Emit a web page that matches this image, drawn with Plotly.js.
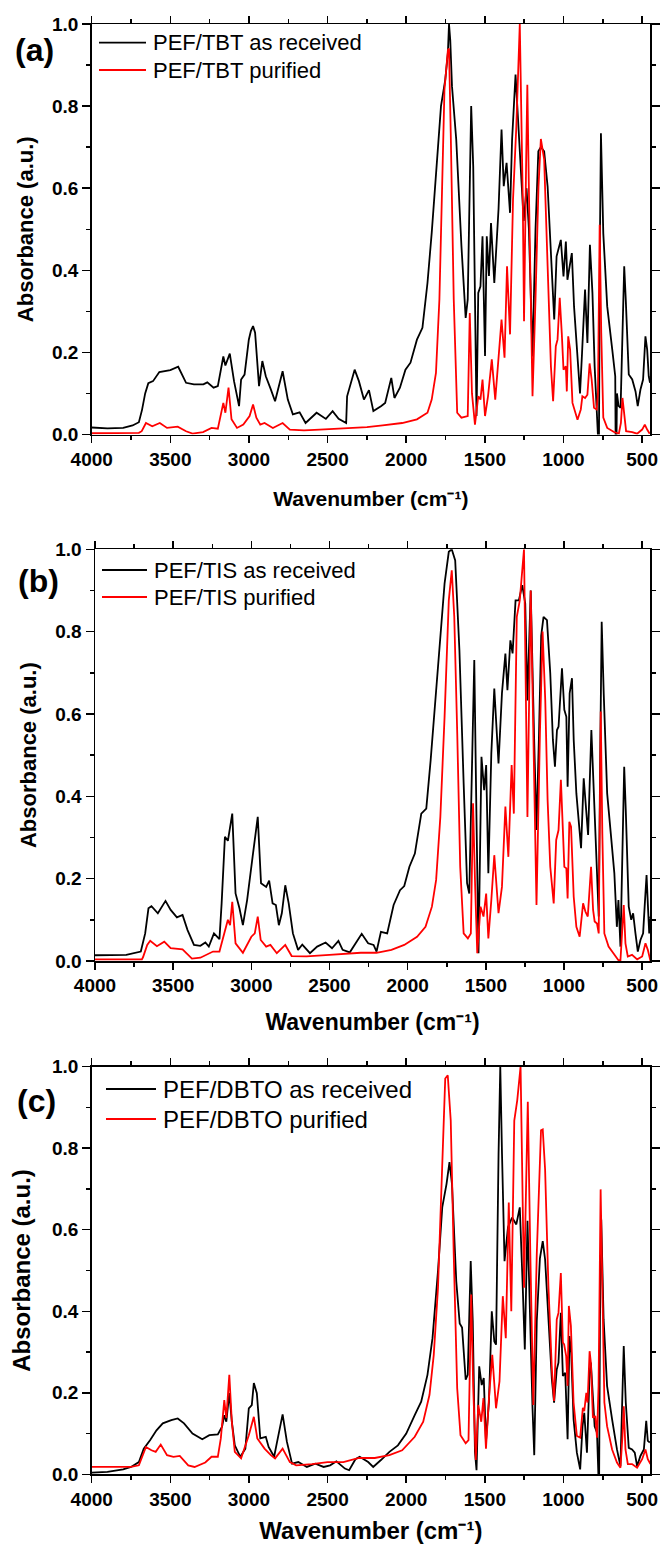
<!DOCTYPE html>
<html>
<head>
<meta charset="utf-8">
<script src="https://cdn.plot.ly/plotly-3.0.1.min.js"></script>
<style>html,body{margin:0;padding:0;background:#fff;}#chart{width:664px;height:1546px;}</style>
</head>
<body>
<div id="chart"></div>
<script>
// ---------- DATA (wavenumber cm-1, absorbance a.u.) ----------
// Panel (a) PEF/TBT
const aRecWn  = [4000,3900,3800,3740,3700,3680,3660,3640,3610,3570,3500,3450,3400,3350,3290,3265,3225,3198,3163,3150,3122,3095,3063,3050,3028,3001,2988,2974,2961,2936,2915,2893,2861,2834,2786,2753,2721,2678,2640,2570,2511,2468,2430,2382,2376,2350,2328,2301,2269,2237,2209,2161,2134,2095,2075,2040,2005,1973,1932,1897,1865,1838,1806,1779,1752,1735,1728,1720,1709,1682,1649,1622,1609,1587,1574,1561,1553,1542,1528,1515,1499,1488,1474,1461,1440,1413,1394,1380,1362,1340,1327,1305,1286,1268,1253,1235,1220,1197,1178,1160,1144,1123,1101,1080,1059,1044,1017,1000,985,975,947,933,911,895,882,863,848,832,816,802,789,781,775,768,762,747,722,690,671,668,664,660,650,637,625,614,604,585,563,542,528,511,494,479,468,458,450];
const aRecAbs = [0.017,0.015,0.016,0.022,0.03,0.06,0.1,0.125,0.13,0.152,0.157,0.165,0.126,0.122,0.122,0.127,0.114,0.118,0.19,0.168,0.197,0.13,0.069,0.134,0.146,0.231,0.252,0.264,0.248,0.118,0.179,0.142,0.11,0.081,0.154,0.085,0.049,0.054,0.028,0.053,0.038,0.057,0.038,0.028,0.093,0.126,0.158,0.13,0.085,0.108,0.057,0.069,0.077,0.138,0.089,0.114,0.158,0.175,0.231,0.26,0.369,0.491,0.653,0.80,0.864,0.93,1.0,0.96,0.848,0.718,0.459,0.284,0.329,0.80,0.653,0.199,0.045,0.345,0.361,0.483,0.191,0.483,0.386,0.515,0.369,0.55,0.743,0.605,0.662,0.54,0.718,0.877,0.75,0.65,0.52,0.6,0.5,0.19,0.5,0.69,0.70,0.69,0.604,0.442,0.28,0.434,0.474,0.385,0.47,0.377,0.442,0.312,0.199,0.1,0.199,0.353,0.223,0.462,0.345,0.166,0.061,-0.05,-0.05,0.49,0.734,0.49,0.312,0.207,0.142,-0.05,-0.05,0.1,0.07,0.065,0.247,0.41,0.328,0.146,0.134,0.105,0.069,0.109,0.134,0.239,0.207,0.142,0.126];
const aPurWn  = [4000,3800,3700,3682,3655,3615,3567,3521,3453,3400,3359,3292,3238,3198,3163,3150,3130,3111,3076,3036,2996,2974,2953,2928,2901,2848,2786,2740,2650,2550,2450,2350,2250,2150,2026,1932,1865,1838,1811,1789,1771,1757,1735,1728,1717,1698,1676,1649,1609,1596,1582,1563,1542,1528,1515,1499,1480,1456,1434,1413,1394,1375,1359,1340,1321,1300,1278,1259,1251,1238,1230,1219,1197,1178,1159,1144,1123,1101,1080,1066,1049,1038,1024,1011,1000,985,979,970,958,943,928,911,890,880,863,848,834,821,806,789,781,770,760,747,722,679,648,635,625,616,602,563,532,500,483,468,452];
const aPurAbs = [0.003,0.003,0.004,0.008,0.028,0.02,0.028,0.016,0.019,0.008,0.002,0.006,0.016,0.014,0.077,0.053,0.114,0.037,0.016,0.024,0.045,0.073,0.041,0.024,0.028,0.016,0.028,0.012,0.01,0.012,0.014,0.016,0.018,0.022,0.028,0.037,0.053,0.085,0.15,0.33,0.653,0.84,0.937,0.94,0.735,0.33,0.053,0.041,0.045,0.296,0.1,0.024,0.093,0.085,0.134,0.045,0.093,0.183,0.085,0.183,0.28,0.187,0.41,0.244,0.572,0.75,1.0,0.572,0.276,0.653,0.852,0.572,0.093,0.33,0.605,0.72,0.67,0.41,0.166,0.081,0.215,0.231,0.333,0.247,0.158,0.166,0.105,0.239,0.207,0.077,0.057,0.036,0.061,0.093,0.089,0.097,0.173,0.134,0.065,0.061,0.1,0.511,0.247,0.041,0.016,0.006,0.002,0.028,0.089,0.053,0.008,0.006,0.002,0.012,0.024,0.012,0.002];

// Panel (b) PEF/TIS
const bRecWn  = [4000,3800,3707,3679,3658,3639,3598,3549,3516,3476,3440,3408,3367,3326,3294,3272,3239,3204,3190,3169,3150,3122,3101,3076,3054,3027,2992,2959,2938,2905,2886,2864,2843,2824,2805,2783,2761,2734,2701,2674,2625,2579,2525,2484,2443,2416,2370,2334,2294,2253,2218,2199,2171,2131,2090,2049,2022,1989,1954,1913,1881,1853,1826,1791,1764,1737,1718,1696,1669,1642,1620,1606,1587,1574,1560,1547,1528,1511,1498,1484,1465,1446,1419,1397,1375,1362,1343,1329,1310,1289,1267,1248,1234,1213,1192,1176,1160,1146,1131,1109,1088,1071,1058,1045,1035,1013,998,985,977,964,949,938,921,906,891,874,859,846,825,810,793,778,767,759,746,724,699,678,662,652,639,626,615,605,586,570,558,543,528,511,494,483,472,464,455,447];
const bRecAbs = [0.014,0.015,0.023,0.067,0.128,0.133,0.116,0.146,0.124,0.106,0.112,0.075,0.039,0.037,0.045,0.035,0.067,0.053,0.14,0.302,0.292,0.358,0.164,0.128,0.087,0.148,0.253,0.35,0.189,0.18,0.195,0.14,0.136,0.087,0.116,0.184,0.14,0.067,0.027,0.04,0.019,0.035,0.045,0.031,0.049,0.027,0.021,0.043,0.066,0.043,0.039,0.023,0.071,0.067,0.136,0.172,0.182,0.229,0.261,0.358,0.37,0.488,0.617,0.771,0.917,0.994,1.0,0.973,0.755,0.431,0.189,0.164,0.472,0.731,0.35,0.019,0.496,0.415,0.476,0.213,0.504,0.662,0.48,0.65,0.747,0.658,0.779,0.747,0.876,0.876,0.913,0.868,0.633,0.9,0.553,0.318,0.55,0.79,0.836,0.828,0.699,0.537,0.472,0.561,0.569,0.711,0.61,0.593,0.423,0.65,0.687,0.537,0.407,0.334,0.274,0.444,0.359,0.306,0.561,0.4,0.229,0.108,0.553,0.824,0.65,0.407,0.302,0.213,0.083,0.148,0.035,0.27,0.472,0.367,0.132,0.1,0.116,0.067,0.023,0.051,0.067,0.14,0.209,0.14,0.067,0.108];
const bPurWn  = [4000,3700,3693,3666,3647,3604,3557,3516,3440,3380,3326,3245,3204,3163,3150,3136,3122,3101,3054,3000,2978,2959,2940,2905,2878,2837,2783,2742,2647,2500,2300,2200,2104,2022,1940,1886,1845,1818,1791,1764,1737,1718,1702,1683,1664,1642,1615,1596,1582,1569,1555,1534,1515,1498,1484,1465,1446,1419,1397,1375,1356,1335,1321,1302,1283,1256,1234,1213,1194,1176,1154,1137,1120,1105,1088,1066,1050,1035,1020,1006,998,985,977,966,955,938,921,900,878,863,848,827,814,804,789,778,765,755,742,715,683,652,639,628,618,607,592,565,532,500,479,464,447];
const bPurAbs = [0.004,0.004,0.009,0.039,0.049,0.036,0.047,0.031,0.028,0.006,0.008,0.023,0.023,0.081,0.1,0.087,0.144,0.043,0.02,0.059,0.067,0.108,0.051,0.035,0.039,0.019,0.039,0.012,0.011,0.015,0.02,0.02,0.027,0.039,0.059,0.083,0.132,0.197,0.35,0.593,0.876,0.949,0.836,0.553,0.229,0.067,0.055,0.067,0.383,0.189,0.019,0.132,0.108,0.164,0.055,0.148,0.257,0.116,0.18,0.375,0.253,0.476,0.358,0.836,0.876,1.0,0.35,0.9,0.553,0.136,0.553,0.8,0.634,0.391,0.229,0.14,0.294,0.318,0.44,0.31,0.229,0.225,0.152,0.338,0.326,0.156,0.083,0.059,0.14,0.12,0.108,0.229,0.124,0.096,0.091,0.067,0.606,0.31,0.067,0.035,0.019,0.002,0.002,0.067,0.136,0.043,0.011,0.015,0.004,0.011,0.043,0.027,0.0];

// Panel (c) PEF/DBTO
const cRecWn  = [4000,3900,3800,3750,3700,3669,3628,3588,3548,3494,3453,3413,3359,3297,3252,3198,3171,3157,3144,3125,3109,3090,3055,3023,3001,2982,2969,2950,2928,2893,2875,2840,2821,2786,2759,2726,2686,2632,2578,2525,2484,2444,2390,2363,2323,2296,2242,2210,2161,2107,2053,2000,1946,1905,1865,1833,1798,1771,1744,1725,1709,1682,1660,1645,1622,1609,1590,1577,1563,1553,1536,1520,1507,1493,1474,1456,1440,1429,1413,1402,1391,1375,1353,1327,1300,1278,1259,1246,1229,1213,1197,1186,1170,1150,1132,1117,1096,1074,1060,1043,1032,1017,1004,989,974,962,951,936,915,894,879,868,851,834,826,813,802,787,780,774,768,760,745,723,691,660,638,625,617,604,585,564,547,532,511,489,474,464,451];
const cRecAbs = [0.004,0.006,0.012,0.018,0.03,0.063,0.084,0.108,0.125,0.133,0.137,0.125,0.1,0.086,0.096,0.098,0.117,0.145,0.129,0.199,0.129,0.071,0.043,0.063,0.162,0.17,0.224,0.199,0.088,0.092,0.067,0.043,0.08,0.147,0.08,0.026,0.03,0.018,0.026,0.018,0.022,0.032,0.014,0.01,0.037,0.043,0.03,0.018,0.035,0.055,0.071,0.1,0.145,0.178,0.244,0.334,0.499,0.655,0.712,0.766,0.712,0.474,0.37,0.36,0.232,0.244,0.523,0.376,0.055,0.01,0.265,0.219,0.236,0.08,0.178,0.4,0.326,0.318,0.786,1.0,0.786,0.523,0.606,0.63,0.613,0.655,0.458,0.306,0.622,0.376,0.162,0.047,0.376,0.53,0.572,0.527,0.38,0.233,0.176,0.257,0.274,0.396,0.241,0.249,0.086,0.339,0.298,0.135,0.053,0.012,0.118,0.151,0.053,0.249,0.274,0.176,0.118,0.102,-0.05,-0.05,0.38,0.625,0.38,0.217,0.135,0.061,0.02,0.176,0.315,0.176,0.065,0.061,0.053,0.02,0.045,0.061,0.131,0.082,0.078];
const cPurWn  = [4000,3750,3700,3682,3655,3620,3593,3561,3521,3480,3440,3386,3346,3278,3238,3198,3179,3157,3144,3125,3109,3090,3050,3001,2969,2947,2915,2901,2861,2834,2786,2740,2700,2600,2500,2400,2300,2200,2107,2026,1946,1892,1852,1825,1798,1771,1752,1736,1717,1698,1676,1655,1622,1604,1587,1574,1558,1542,1523,1509,1493,1474,1453,1429,1407,1386,1367,1348,1332,1313,1294,1273,1251,1238,1227,1211,1192,1170,1143,1132,1117,1096,1074,1060,1043,1032,1017,1004,996,983,974,966,953,936,915,894,877,868,855,847,834,826,813,798,787,777,764,753,740,723,691,660,638,625,617,606,591,564,532,500,479,464,447];
const cPurAbs = [0.018,0.018,0.022,0.039,0.067,0.059,0.055,0.073,0.047,0.043,0.045,0.022,0.018,0.029,0.043,0.043,0.088,0.182,0.138,0.244,0.129,0.055,0.039,0.096,0.141,0.088,0.071,0.063,0.047,0.039,0.063,0.03,0.022,0.025,0.03,0.03,0.04,0.04,0.047,0.059,0.092,0.129,0.195,0.293,0.458,0.786,0.971,0.979,0.868,0.54,0.211,0.096,0.076,0.084,0.441,0.211,0.035,0.17,0.129,0.187,0.063,0.187,0.293,0.162,0.228,0.437,0.334,0.667,0.4,0.868,0.918,1.0,0.458,0.704,0.914,0.54,0.17,0.54,0.844,0.846,0.748,0.462,0.257,0.18,0.38,0.396,0.494,0.323,0.319,0.29,0.217,0.413,0.364,0.176,0.094,0.09,0.163,0.155,0.2,0.176,0.302,0.274,0.139,0.143,0.09,0.217,0.699,0.462,0.176,0.118,0.061,0.029,0.016,0.094,0.167,0.061,0.025,0.025,0.016,0.037,0.061,0.037,0.025];

const xTickVals = [4000,3500,3000,2500,2000,1500,1000,500];
const yTickVals = [0.0,0.2,0.4,0.6,0.8,1.0];
const names = [["PEF/TBT as received","PEF/TBT purified"],["PEF/TIS as received","PEF/TIS purified"],["PEF/DBTO as received","PEF/DBTO purified"]];
const panelLabels = ["(a)","(b)","(c)"];
const xTitleText = "Wavenumber (cm\u207B\u00B9)";
const yTitleText = "Absorbance (a.u.)";

// ---------- LAYOUT HELPERS ----------
const W = 664, H = 1546;
const FONT = "Liberation Sans, Arial, Helvetica, sans-serif";
const px = v => v / W;
const py = v => 1 - v / H;

const boxes = [
  {l: 91.7, r: 650, t: 24,     b: 434.5},
  {l: 95,   r: 650, t: 549.3,  b: 961},
  {l: 91.7, r: 650, t: 1066.7, b: 1474.3}
];

const series = [
  [[aRecWn,aRecAbs],[aPurWn,aPurAbs]],
  [[bRecWn,bRecAbs],[bPurWn,bPurAbs]],
  [[cRecWn,cRecAbs],[cPurWn,cPurAbs]]
];
const colors = ["#000000","#ff0000"];

const traces = [];
const layout = {
  width: W, height: H,
  margin: {l:0, r:0, t:0, b:0},
  paper_bgcolor: "#ffffff", plot_bgcolor: "#ffffff",
  showlegend: false,
  annotations: [],
  shapes: [],
  font: {family: FONT, color: "#000"}
};

// legend key placement (pixels on page): line start/end, text start, row centres, font size
const legendKeys = [
  {x0: 99,  x1: 146, tx: 152, rows: [42.7, 70],   s: 22},
  {x0: 102, x1: 147, tx: 153, rows: [570, 597],   s: 22},
  {x0: 106, x1: 156, tx: 162, rows: [1089, 1119], s: 24}
];
const xTitle = [{s:21, so:22}, {s:23, so:18}, {s:24, so:13}];
const yTitle = [{s:22, so:12}, {s:22, so:12}, {s:24, so:14}];
const lab = [{x:34, y:50}, {x:38, y:581}, {x:36, y:1101}];

boxes.forEach((bx, i) => {
  const xn = i === 0 ? "xaxis" : "xaxis" + (i+1);
  const yn = i === 0 ? "yaxis" : "yaxis" + (i+1);
  const xr = i === 0 ? "x" : "x" + (i+1);
  const yr = i === 0 ? "y" : "y" + (i+1);

  series[i].forEach((s, j) => {
    traces.push({
      type: "scatter", mode: "lines",
      x: s[0], y: s[1],
      name: names[i][j],
      xaxis: xr, yaxis: yr, showlegend: false,
      line: {color: colors[j], width: 1.8},
      hoverinfo: "skip"
    });
    const k = legendKeys[i];
    layout.shapes.push({
      type: "line", xref: "paper", yref: "paper",
      x0: px(k.x0), x1: px(k.x1), y0: py(k.rows[j]), y1: py(k.rows[j]),
      line: {color: colors[j], width: 1.8}
    });
    layout.annotations.push({
      text: names[i][j], xref: "paper", yref: "paper",
      x: px(k.tx), y: py(k.rows[j]), xanchor: "left", yanchor: "middle",
      showarrow: false, borderpad: 0,
      font: {family: FONT, size: k.s, color: "#000"}
    });
  });

  layout[xn] = {
    domain: [px(bx.l), px(bx.r)], anchor: yr,
    range: [4000, 450], autorange: false,
    tickmode: "array", tickvals: xTickVals, tickformat: "d",
    ticks: "outside", ticklen: 7, tickwidth: 1.5, tickcolor: "#000",
    showline: true, linecolor: "#000", linewidth: 1.5, mirror: "ticks",
    showgrid: false, zeroline: false,
    tickfont: {family: FONT, size: 19, color: "#000", weight: "bold"},
    title: {text: xTitleText, standoff: xTitle[i].so, font: {family: FONT, size: xTitle[i].s, color: "#000", weight: "bold"}},
    minor: {tickmode: "linear", tick0: 250, dtick: 500, ticks: "outside", ticklen: 4, tickwidth: 1.5, tickcolor: "#000", showgrid: false}
  };
  layout[yn] = {
    domain: [py(bx.b), py(bx.t)], anchor: xr,
    range: [0, 1], autorange: false,
    tickmode: "array", tickvals: yTickVals, tickformat: ".1f",
    ticks: "outside", ticklen: 8, tickwidth: 1.5, tickcolor: "#000",
    showline: true, linecolor: "#000", linewidth: 1.5, mirror: "ticks",
    showgrid: false, zeroline: false,
    tickfont: {family: FONT, size: 19, color: "#000", weight: "bold"},
    title: {text: yTitleText, standoff: yTitle[i].so, font: {family: FONT, size: yTitle[i].s, color: "#000", weight: "bold"}},
    minor: {tickmode: "linear", tick0: 0.1, dtick: 0.2, ticks: "outside", ticklen: 4, tickwidth: 1.5, tickcolor: "#000", showgrid: false}
  };

  layout.annotations.push({
    text: panelLabels[i], xref: "paper", yref: "paper",
    x: px(lab[i].x), y: py(lab[i].y), xanchor: "center", yanchor: "middle",
    showarrow: false, font: {family: FONT, size: 32, color: "#000", weight: "bold"}
  });
});

Plotly.newPlot("chart", traces, layout, {displayModeBar: false, staticPlot: true});
</script>
</body>
</html>
